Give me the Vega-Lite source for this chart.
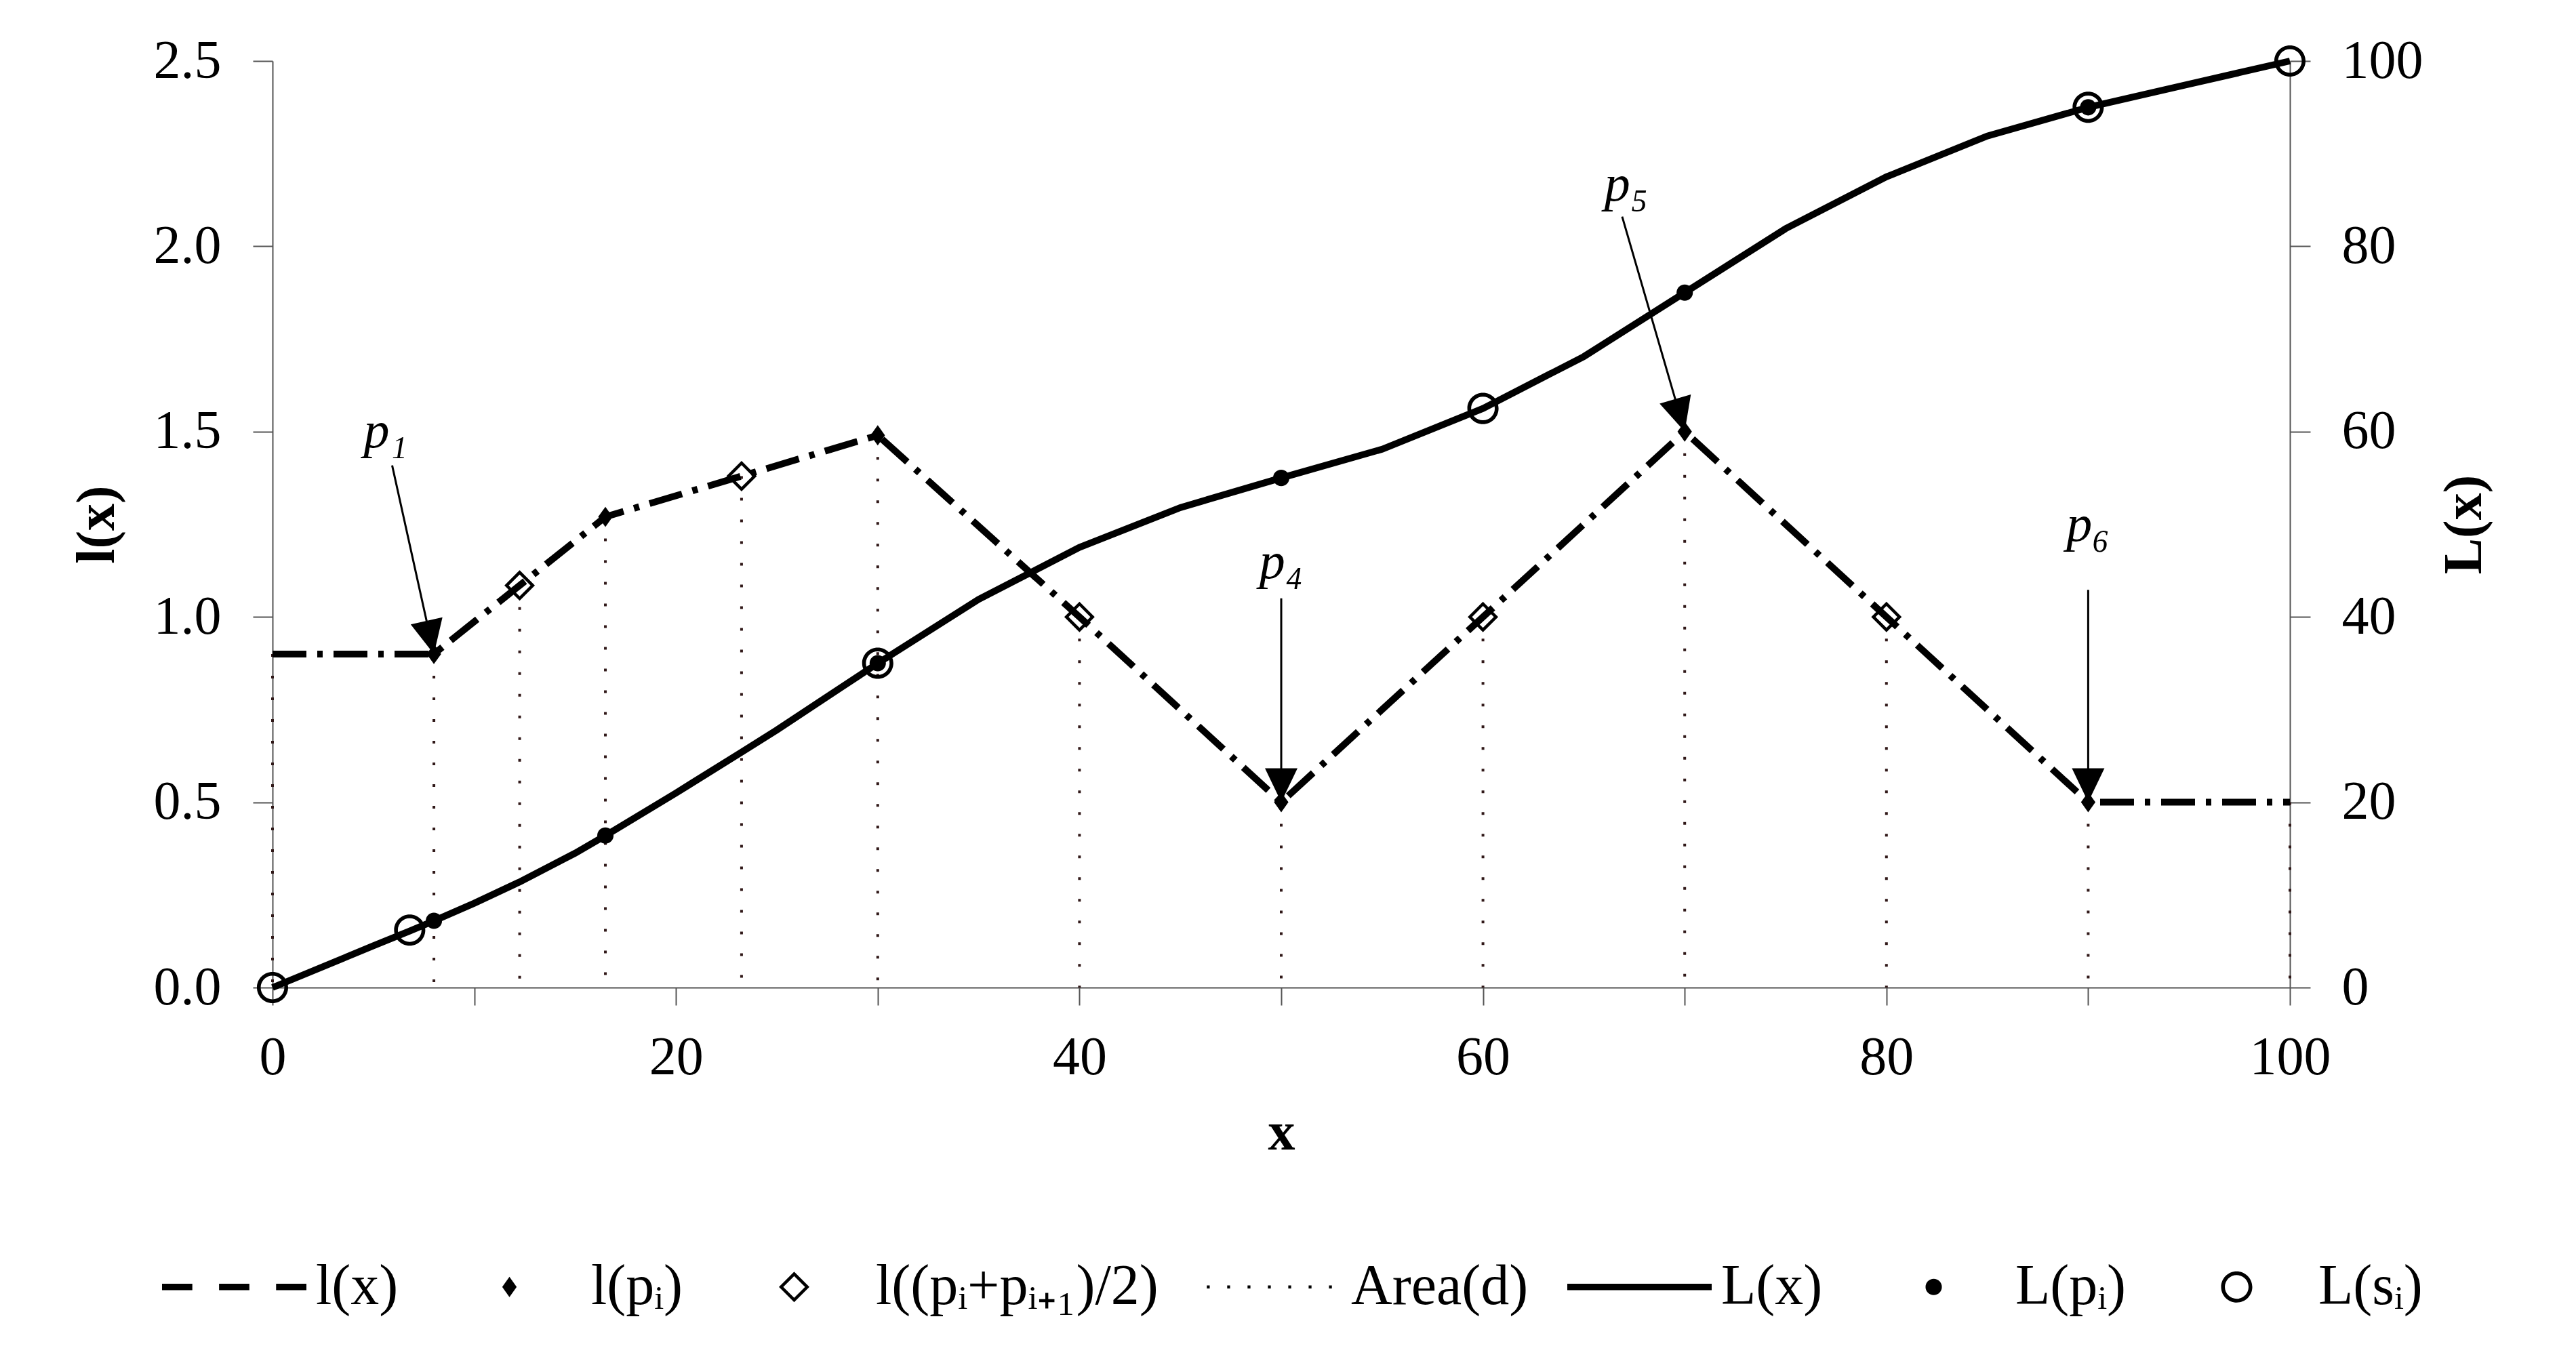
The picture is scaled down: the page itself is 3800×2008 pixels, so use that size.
{
  "$schema": "https://vega.github.io/schema/vega-lite/v6.json",
  "width": 2976,
  "height": 1367,
  "autosize": {"type": "none"},
  "padding": {"left": 402, "top": 90, "right": 422, "bottom": 551},
  "background": "white",
  "config": {
    "font": "Liberation Serif",
    "view": {"stroke": null},
    "axis": {
      "grid": false,
      "domainColor": "#555555",
      "domainWidth": 2,
      "tickColor": "#555555",
      "tickWidth": 2,
      "labelFont": "Liberation Serif",
      "labelFontSize": 80,
      "labelColor": "black",
      "labelFlush": false,
      "labelOverlap": false,
      "titleFont": "Liberation Serif",
      "titleFontSize": 80,
      "titleFontWeight": "bold",
      "titleColor": "black"
    }
  },
  "datasets": {
    "lx": [
      {"x": 0, "l": 0.9}, {"x": 8, "l": 0.9}, {"x": 12.25, "l": 1.085}, {"x": 16.5, "l": 1.27},
      {"x": 23.25, "l": 1.38}, {"x": 30, "l": 1.49}, {"x": 40, "l": 1.0}, {"x": 50, "l": 0.5},
      {"x": 60, "l": 1.0}, {"x": 70, "l": 1.5}, {"x": 80, "l": 1.0}, {"x": 90, "l": 0.5}, {"x": 100, "l": 0.5}
    ],
    "lp": [
      {"series": "l(pᵢ)", "x": 8, "l": 0.9}, {"series": "l(pᵢ)", "x": 16.5, "l": 1.27},
      {"series": "l(pᵢ)", "x": 30, "l": 1.49}, {"series": "l(pᵢ)", "x": 50, "l": 0.5},
      {"series": "l(pᵢ)", "x": 70, "l": 1.5}, {"series": "l(pᵢ)", "x": 90, "l": 0.5}
    ],
    "lmid": [
      {"series": "l((pᵢ+pᵢ₊₁)/2)", "x": 12.25, "l": 1.085}, {"series": "l((pᵢ+pᵢ₊₁)/2)", "x": 23.25, "l": 1.38},
      {"series": "l((pᵢ+pᵢ₊₁)/2)", "x": 40, "l": 1.0}, {"series": "l((pᵢ+pᵢ₊₁)/2)", "x": 60, "l": 1.0},
      {"series": "l((pᵢ+pᵢ₊₁)/2)", "x": 80, "l": 1.0}
    ],
    "Lx": [
      {"x": 0, "L": 0}, {"x": 5, "L": 4.5}, {"x": 6.8, "L": 6.1}, {"x": 8, "L": 7.2}, {"x": 10, "L": 9.1},
      {"x": 12.25, "L": 11.4}, {"x": 15, "L": 14.5}, {"x": 16.5, "L": 16.4}, {"x": 20, "L": 21.0},
      {"x": 23.25, "L": 25.4}, {"x": 25, "L": 27.8}, {"x": 30, "L": 35.0}, {"x": 35, "L": 41.9},
      {"x": 40, "L": 47.5}, {"x": 45, "L": 51.8}, {"x": 50, "L": 55.0}, {"x": 55, "L": 58.1},
      {"x": 60, "L": 62.5}, {"x": 65, "L": 68.1}, {"x": 70, "L": 75.0}, {"x": 75, "L": 81.9},
      {"x": 80, "L": 87.5}, {"x": 85, "L": 91.9}, {"x": 90, "L": 95.0}, {"x": 95, "L": 97.5}, {"x": 100, "L": 100}
    ],
    "Lp": [
      {"series": "L(pᵢ)", "x": 8, "L": 7.2}, {"series": "L(pᵢ)", "x": 16.5, "L": 16.4},
      {"series": "L(pᵢ)", "x": 30, "L": 35.0}, {"series": "L(pᵢ)", "x": 50, "L": 55.0},
      {"series": "L(pᵢ)", "x": 70, "L": 75.0}, {"series": "L(pᵢ)", "x": 90, "L": 95.0}
    ],
    "Ls": [
      {"series": "L(sᵢ)", "x": 0, "L": 0}, {"series": "L(sᵢ)", "x": 6.8, "L": 6.2},
      {"series": "L(sᵢ)", "x": 30, "L": 35.0}, {"series": "L(sᵢ)", "x": 60, "L": 62.5},
      {"series": "L(sᵢ)", "x": 90, "L": 95.0}, {"series": "L(sᵢ)", "x": 100, "L": 100}
    ],
    "arrows": [
      {"label": "p₁", "x0": 5.93, "y0": 1.409, "x1": 8, "y1": 0.9, "lx": 5.6, "ly": 1.5},
      {"label": "p₄", "x0": 50, "y0": 1.05, "x1": 50, "y1": 0.5, "lx": 50, "ly": 1.147},
      {"label": "p₅", "x0": 66.9, "y0": 2.08, "x1": 70, "y1": 1.5, "lx": 67.1, "ly": 2.165},
      {"label": "p₆", "x0": 90, "y0": 1.073, "x1": 90, "y1": 0.5, "lx": 90, "ly": 1.247}
    ]
  },
  "layer": [
    {
      "layer": [
        {
          "data": {"name": "lx"},
          "mark": {"type": "rule", "strokeDash": [4, 28], "strokeWidth": 4, "color": "#301818"},
          "encoding": {
            "x": {
              "field": "x", "type": "quantitative", "title": "x",
              "scale": {"domain": [0, 100], "nice": false},
              "axis": {
                "values": [0, 10, 20, 30, 40, 50, 60, 70, 80, 90, 100],
                "labelExpr": "datum.value % 20 === 0 ? datum.label : ''",
                "tickSize": 26,
                "labelPadding": 38,
                "titlePadding": 32,
                "encode": {"ticks": {"update": {"y2": {"signal": "datum.value % 20 === 0 ? 26 : -20"}}}}
              }
            },
            "y": {
              "field": "l", "type": "quantitative", "title": "l(x)",
              "scale": {"domain": [0, 2.5], "nice": false},
              "axis": {"values": [0, 0.5, 1, 1.5, 2, 2.5], "format": ".1f", "tickSize": 29, "labelPadding": 47, "titlePadding": 42}
            },
            "y2": {"datum": 0}
          }
        },
        {
          "data": {"name": "lx"},
          "mark": {"type": "line", "strokeDash": [50, 16, 8, 16], "strokeWidth": 10, "color": "black"},
          "encoding": {
            "x": {"field": "x", "type": "quantitative", "title": "x"},
            "y": {"field": "l", "type": "quantitative", "title": "l(x)"}
          }
        },
        {
          "data": {"name": "lp"},
          "mark": {"type": "point", "filled": true, "color": "black", "size": 45369, "opacity": 1, "strokeWidth": 0},
          "encoding": {
            "x": {"field": "x", "type": "quantitative", "title": "x"},
            "y": {"field": "l", "type": "quantitative", "title": "l(x)"},
            "shape": {
              "field": "series", "type": "nominal",
              "scale": {
                "domain": ["l(x)", "l(pᵢ)", "l((pᵢ+pᵢ₊₁)/2)", "Area(d)", "L(x)", "L(pᵢ)", "L(sᵢ)"],
                "range": [
                  "M-1,-0.045H-0.58V0.045H-1ZM-0.21,-0.045H0.21V0.045H-0.21ZM0.58,-0.045H1V0.045H0.58Z",
                  "M0,-0.14L0.1,0L0,0.14L-0.1,0Z",
                  "M0,-0.211L0.211,0L0,0.211L-0.211,0ZM0,-0.151L-0.151,0L0,0.151L0.151,0Z",
                  "M-0.866,-0.02h0.04v0.04h-0.04ZM-0.584,-0.02h0.04v0.04h-0.04ZM-0.302,-0.02h0.04v0.04h-0.04ZM-0.02,-0.02h0.04v0.04h-0.04ZM0.262,-0.02h0.04v0.04h-0.04ZM0.544,-0.02h0.04v0.04h-0.04ZM0.826,-0.02h0.04v0.04h-0.04Z",
                  "M-1,-0.045H1V0.045H-1Z",
                  "M-0.113,0A0.113,0.113,0,1,0,0.113,0A0.113,0.113,0,1,0,-0.113,0Z",
                  "M-0.216,0A0.216,0.216,0,1,1,0.216,0A0.216,0.216,0,1,1,-0.216,0ZM-0.164,0A0.164,0.164,0,1,0,0.164,0A0.164,0.164,0,1,0,-0.164,0Z"
                ]
              },
              "legend": {
                "title": null,
                "orient": "none",
                "legendX": -163,
                "legendY": 1702,
                "direction": "horizontal",
                "columns": 7,
                "padding": 0,
                "symbolSize": 45369,
                "symbolStrokeWidth": 0,
                "symbolFillColor": "black",
                "symbolStrokeColor": "black",
                "symbolOpacity": 1,
                "labelFont": "Liberation Serif",
                "labelFontSize": 84,
                "labelColor": "black",
                "labelLimit": 1000,
                "labelOffset": 14,
                "columnPadding": 57,
                "encode": {
                  "symbols": {
                    "update": {
                      "fill": {"value": "black"},
                      "strokeWidth": {"value": 0}
                    }
                  }
                }
              }
            }
          }
        },
        {
          "data": {"name": "lmid"},
          "mark": {"type": "point", "filled": true, "color": "black", "size": 45369, "opacity": 1, "strokeWidth": 0},
          "encoding": {
            "x": {"field": "x", "type": "quantitative", "title": "x"},
            "y": {"field": "l", "type": "quantitative", "title": "l(x)"},
            "shape": {"field": "series", "type": "nominal"}
          }
        },
        {
          "data": {"name": "arrows"},
          "mark": {"type": "rule", "strokeWidth": 3, "color": "black"},
          "encoding": {
            "x": {"field": "x0", "type": "quantitative", "title": "x"},
            "y": {"field": "y0", "type": "quantitative", "title": "l(x)"},
            "x2": {"field": "x1"},
            "y2": {"field": "y1"}
          }
        },
        {
          "data": {"name": "arrows"},
          "mark": {"type": "point", "shape": "M0,0L-0.48,-1L0.48,-1Z", "size": 10000, "filled": true, "color": "black", "opacity": 1, "strokeWidth": 0},
          "encoding": {
            "x": {"field": "x1", "type": "quantitative", "title": "x"},
            "y": {"field": "y1", "type": "quantitative", "title": "l(x)"},
            "angle": {
              "condition": [
                {"test": "datum.label === 'p₁'", "value": -12.5},
                {"test": "datum.label === 'p₅'", "value": -16.2}
              ],
              "value": 0
            }
          }
        },
        {
          "data": {"name": "arrows"},
          "mark": {"type": "text", "font": "Liberation Serif", "fontStyle": "italic", "fontSize": 76, "align": "center", "baseline": "middle", "color": "black"},
          "encoding": {
            "x": {"field": "lx", "type": "quantitative", "title": "x"},
            "y": {"field": "ly", "type": "quantitative", "title": "l(x)"},
            "text": {"field": "label"}
          }
        }
      ]
    },
    {
      "layer": [
        {
          "data": {"name": "Lx"},
          "mark": {"type": "line", "strokeWidth": 10, "color": "black"},
          "encoding": {
            "x": {"field": "x", "type": "quantitative", "title": "x"},
            "y": {
              "field": "L", "type": "quantitative", "title": "L(x)",
              "scale": {"domain": [0, 100], "nice": false},
              "axis": {"orient": "right", "values": [0, 20, 40, 60, 80, 100], "tickSize": 30, "labelPadding": 46, "titlePadding": 102, "titleAngle": -90}
            }
          }
        },
        {
          "data": {"name": "Lp"},
          "mark": {"type": "point", "filled": true, "color": "black", "size": 45369, "opacity": 1, "strokeWidth": 0},
          "encoding": {
            "x": {"field": "x", "type": "quantitative", "title": "x"},
            "y": {"field": "L", "type": "quantitative", "title": "L(x)"},
            "shape": {"field": "series", "type": "nominal"}
          }
        },
        {
          "data": {"name": "Ls"},
          "mark": {"type": "point", "filled": true, "color": "black", "size": 45369, "opacity": 1, "strokeWidth": 0},
          "encoding": {
            "x": {"field": "x", "type": "quantitative", "title": "x"},
            "y": {"field": "L", "type": "quantitative", "title": "L(x)"},
            "shape": {"field": "series", "type": "nominal"}
          }
        }
      ]
    }
  ],
  "resolve": {"scale": {"y": "independent"}}
}
